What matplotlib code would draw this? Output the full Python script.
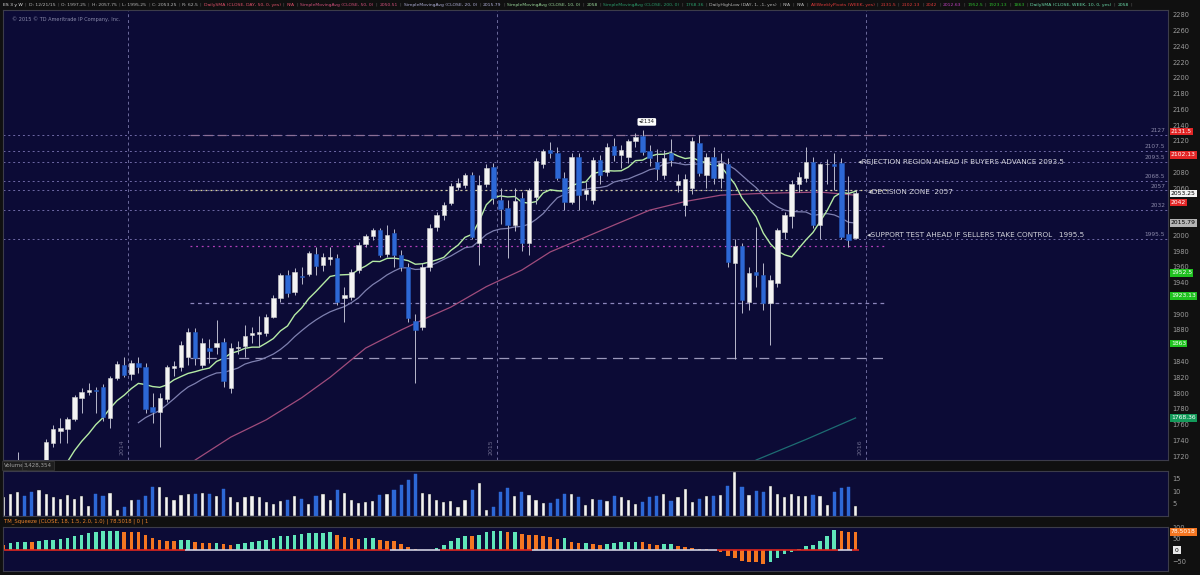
import matplotlib
matplotlib.use("Agg")
import matplotlib.pyplot as plt
import matplotlib.transforms as mtransforms
from matplotlib import font_manager
import numpy as np
import pandas as pd

# ES futures, weekly bars (week of 2013-09-02 .. week of 2015-12-21)
opens = [1632, 1652, 1684, 1705, 1688, 1683, 1700, 1737, 1752, 1754,
         1767, 1794, 1801, 1804, 1807, 1768, 1819, 1836, 1824, 1838,
         1833, 1782, 1776, 1793, 1832, 1833, 1846, 1877, 1836, 1857,
         1858, 1865, 1806, 1857, 1860, 1874, 1875, 1876, 1897, 1921,
         1950, 1928, 1948, 1951, 1977, 1962, 1970, 1971, 1921, 1922,
         1956, 1989, 1999, 2007, 1977, 2003, 1975, 1960, 1891, 1884,
         1960, 2011, 2026, 2041, 2062, 2064, 2076, 1990, 2065, 2087,
         2045, 2035, 2013, 2047, 1990, 2049, 2091, 2108, 2105, 2073,
         2043, 2099, 2052, 2045, 2096, 2080, 2114, 2102, 2099, 2120,
         2126, 2107, 2093, 2077, 2105, 2064, 2039, 2060, 2117, 2077,
         2100, 2073, 2090, 1965, 1987, 1916, 1953, 1950, 1914, 1940,
         2004, 2024, 2065, 2073, 2093, 2013, 2090, 2091, 2092, 2002,
         1997.25]
highs = [1660, 1690, 1725, 1712, 1700, 1708, 1742, 1760, 1768, 1770,
         1797, 1806, 1813, 1808, 1811, 1822, 1840, 1846, 1842, 1846,
         1838, 1800, 1800, 1836, 1840, 1866, 1882, 1883, 1870, 1868,
         1893, 1870, 1864, 1866, 1886, 1884, 1898, 1900, 1924, 1952,
         1956, 1958, 1960, 1980, 1985, 1978, 1985, 1976, 1935, 1957,
         1992, 2002, 2010, 2010, 2013, 2008, 1982, 1965, 1900, 1965,
         2015, 2030, 2042, 2066, 2073, 2079, 2080, 2077, 2090, 2092,
         2060, 2045, 2060, 2055, 2060, 2098, 2110, 2118, 2112, 2080,
         2105, 2104, 2068, 2100, 2102, 2117, 2124, 2115, 2122, 2130,
         2134, 2115, 2110, 2108, 2122, 2078, 2078, 2125, 2128, 2105,
         2112, 2105, 2098, 1995, 1990, 1960, 2011, 1965, 1950, 2010,
         2030, 2070, 2080, 2112, 2100, 2092, 2097, 2104, 2098, 2075,
         2057.75]
lows = [1628, 1648, 1680, 1683, 1668, 1650, 1698, 1732, 1737, 1737,
        1764, 1775, 1798, 1775, 1765, 1756, 1816, 1820, 1816, 1825,
        1775, 1762, 1731, 1788, 1822, 1828, 1836, 1836, 1832, 1838,
        1850, 1808, 1800, 1850, 1846, 1864, 1858, 1872, 1895, 1916,
        1922, 1925, 1938, 1948, 1950, 1955, 1962, 1912, 1890, 1918,
        1952, 1985, 1994, 1972, 1972, 1960, 1955, 1890, 1813, 1880,
        1955, 2005, 2020, 2038, 2058, 2060, 1995, 1963, 2062, 2040,
        2015, 1971, 2005, 1980, 1975, 2040, 2085, 2098, 2070, 2032,
        2040, 2032, 2045, 2040, 2065, 2075, 2095, 2085, 2092, 2112,
        2102, 2088, 2070, 2072, 2088, 2055, 2025, 2052, 2075, 2060,
        2065, 2060, 1960, 1843, 1901, 1905, 1935, 1905, 1861, 1935,
        1995, 2010, 2055, 2068, 2010, 1995, 2065, 2058, 1995, 1985,
        1995.25]
closes = [1652, 1684, 1705, 1688, 1683, 1700, 1738, 1754, 1755, 1767,
          1795, 1801, 1804, 1802, 1770, 1819, 1837, 1823, 1838, 1833,
          1780, 1776, 1794, 1833, 1834, 1861, 1877, 1845, 1864, 1853,
          1864, 1815, 1857, 1859, 1872, 1876, 1877, 1897, 1921, 1950,
          1927, 1954, 1947, 1978, 1961, 1972, 1972, 1915, 1925, 1954,
          1988, 1999, 2007, 1975, 2001, 1975, 1960, 1895, 1880, 1960,
          2010, 2026, 2039, 2063, 2067, 2076, 1998, 2064, 2086, 2048,
          2034, 2013, 2044, 1990, 2057, 2095, 2107, 2105, 2073, 2043,
          2100, 2051, 2058, 2096, 2077, 2112, 2102, 2108, 2120, 2125,
          2106, 2098, 2084, 2098, 2096, 2069, 2071, 2120, 2079, 2100,
          2073, 2092, 1966, 1986, 1918, 1952, 1950, 1914, 1943, 2007,
          2026, 2065, 2074, 2093, 2013, 2090, 2091, 2088, 1998, 1994,
          2053.25]

# volume, millions
volume = [7.6, 9.0, 9.7, 7.9, 9.7, 10.4, 8.8, 7.4, 6.9, 8.3,
          6.9, 7.9, 3.8, 8.8, 7.9, 9.3, 2.1, 3.5, 6.5, 6.5,
          8.0, 11.5, 11.8, 7.6, 6.3, 8.3, 8.8, 9.0, 9.3, 8.8,
          7.9, 10.7, 7.6, 5.6, 7.6, 7.9, 7.6, 5.6, 4.9, 6.0,
          6.5, 7.9, 6.9, 4.9, 7.9, 8.8, 6.5, 10.4, 9.3, 6.5,
          5.1, 5.6, 6.0, 8.3, 8.8, 10.4, 12.5, 14.6, 17.1, 9.3,
          8.8, 6.3, 5.6, 6.0, 3.5, 6.3, 10.4, 13.2, 2.1, 3.5,
          9.7, 11.1, 7.9, 9.7, 8.3, 6.5, 5.1, 5.1, 6.9, 8.8,
          8.8, 7.6, 4.2, 6.9, 6.4, 6.0, 7.8, 7.4, 6.4, 4.8,
          5.7, 7.5, 8.0, 8.7, 6.0, 7.5, 10.8, 5.5, 6.7, 8.0,
          7.8, 8.2, 11.9, 17.7, 11.5, 8.2, 10.2, 9.5, 11.9, 8.7,
          7.4, 8.7, 7.8, 7.8, 8.5, 7.8, 4.1, 9.8, 11.2, 11.5,
          3.7]

# TTM squeeze histogram
squeeze = [24, 31, 35, 35, 34, 41, 45, 46, 48, 52,
           60, 67, 74, 78, 81, 82, 84, 80, 79, 78,
           67, 52, 45, 41, 40, 42, 43, 35, 32, 31,
           32, 25, 24, 27, 31, 35, 38, 45, 52, 60,
           62, 67, 71, 74, 75, 76, 77, 66, 58, 53,
           50, 51, 52, 45, 41, 38, 27, 13, 4, 1,
           0, 10, 24, 38, 52, 62, 60, 67, 78, 81,
           82, 77, 78, 70, 67, 66, 62, 55, 50, 51,
           34, 31, 32, 27, 21, 27, 31, 34, 35, 36,
           34, 27, 24, 25, 26, 20, 13, 10, 7, 4,
           1, -7, -26, -33, -47, -50, -52, -61, -50, -35,
           -18, -7, 7, 17, 21, 41, 62, 85, 81, 80,
           78.5]
squeeze_off = [(26, 37), (55, 61), (75, 100), (118, 119)]

# 50 and 200 week averages (bar index, price)
ma50_idx = [27, 32, 37, 42, 46, 51, 56, 60, 63, 68, 73, 77, 82, 87, 91, 96, 101, 106, 110, 115, 120]
ma50_val = [1715, 1744, 1766, 1794, 1820, 1857, 1880, 1897, 1909, 1935, 1956, 1979, 1998, 2017, 2032,
            2043, 2051, 2053, 2054, 2055, 2051]
ma200_idx = [106, 113, 120]
ma200_val = [1715, 1741, 1768.36]

pivot_levels = [2127, 2107.5, 2093.5, 2068.5, 2057, 2032, 1995.5]
drawn_levels = [2127, 2057, 1986, 1914, 1845]
year_idx = [17.5, 69.5, 121.5]
year_text = ["2014", "2015", "2016"]

price_tags = [("2131.5", 2131.5, "#e32626", "white"), ("2102.13", 2102.13, "#e32626", "white"),
              ("2053.25", 2053.25, "#f2f2f2", "black"), ("2042", 2042, "#e32626", "white"),
              ("2015.79", 2015.79, "#b4b4b4", "black"), ("1952.5", 1952.5, "#1fc21f", "white"),
              ("1923.13", 1923.13, "#1fc21f", "white"), ("1863", 1863, "#1fc21f", "white"),
              ("1768.36", 1768.36, "#139a5a", "white")]

notes = [("\u25c2REJECTION REGION AHEAD IF BUYERS ADVANCE 2093.5", 120.4, 2092.5),
         ("\u25c2DECISION ZONE  2057", 121.8, 2055),
         ("\u25c2SUPPORT TEST AHEAD IF SELLERS TAKE CONTROL   1995.5", 121.6, 2001)]

header = [("ES 3 y W", "#e8e8e8"), ("D: 12/21/15", "#b8b8b8"), ("O: 1997.25", "#b8b8b8"),
          ("H: 2057.75", "#b8b8b8"), ("L: 1995.25", "#b8b8b8"), ("C: 2053.25", "#b8b8b8"),
          ("R: 62.5", "#b8b8b8"), ("DailySMA (CLOSE, DAY, 50, 0, yes)", "#e0506a"), ("N/A", "#e0506a"),
          ("SimpleMovingAvg (CLOSE, 50, 0)", "#d2507c"), ("2050.51", "#d2507c"),
          ("SimpleMovingAvg (CLOSE, 20, 0)", "#b0b0d8"), ("2015.79", "#b0b0d8"),
          ("SimpleMovingAvg (CLOSE, 10, 0)", "#9ad69a"), ("2058", "#9ad69a"),
          ("SimpleMovingAvg (CLOSE, 200, 0)", "#2a9a6a"), ("1768.36", "#2a9a6a"),
          ("DailyHighLow (DAY, 1, -1, yes)", "#b8b8b8"), ("N/A", "#b8b8b8"), ("N/A", "#b8b8b8"),
          ("AllWeeklyPivots (WEEK, yes)", "#e03a3a"), ("2131.5", "#e03a3a"), ("2102.13", "#e03a3a"),
          ("2042", "#e03a3a"), ("2012.63", "#c040c0"), ("1952.5", "#2cb82c"), ("1923.13", "#2cb82c"),
          ("1863", "#2cb82c"), ("DailySMA (CLOSE, WEEK, 10, 0, yes)", "#6ad8a8"), ("2058", "#6ad8a8")]

NAVY = "#0c0b36"
WHITE = "#f3f3f3"
BLUE = "#2d68d6"
AQUA = "#5fe6b9"
ORANGE = "#f47621"

names = {f.name for f in font_manager.fontManager.ttflist}
if "Liberation Sans Narrow" in names:
    note_font, note_size = "Liberation Sans Narrow", 6.6
else:
    note_font, note_size = "DejaVu Sans", 5.2

n = len(closes)
idx = np.arange(n)
o = np.array(opens, float)
c = np.array(closes, float)
up = c >= o

fig = plt.figure(figsize=(12, 5.75), dpi=100, facecolor="#101010")
W, H = 1200.0, 575.0
ax = fig.add_axes([3 / W, 1 - 460 / H, 1165 / W, 450 / H])
axv = fig.add_axes([3 / W, 1 - 516 / H, 1165 / W, 45 / H], sharex=ax)
axs = fig.add_axes([3 / W, 1 - 571 / H, 1165 / W, 44 / H], sharex=ax)

for a in (ax, axv, axs):
    a.set_facecolor(NAVY)
    for s in a.spines.values():
        s.set_color("#3c3c4a")
        s.set_linewidth(0.8)
    a.yaxis.tick_right()
    a.tick_params(axis="y", length=0, pad=3, labelsize=4.8, labelcolor="#9c9c9c")
    a.tick_params(axis="x", length=0, labelbottom=False)
ax.set_xlim(-0.07, 164)

# ---- price panel
ax.set_ylim(1715, 2286)
# the coloured price tags sit on top of some scale labels, leave those out
ticks = [t for t in range(1720, 2281, 20) if min(abs(t - p[1]) for p in price_tags) > 6]
ax.set_yticks(ticks)

for lv in pivot_levels:
    ax.axhline(lv, color="#6f69a6", lw=0.7, ls=(0, (2, 3)), zorder=1)
    ax.text(163.6, lv + 2.5, lv if lv % 1 else int(lv), color="#8a88a8", fontsize=4.2,
            ha="right", va="bottom")
ax.hlines(drawn_levels, 26.3, 124.4, colors=["#8c6f96", "#d6cfa0", "#b23fb8", "#8c86bc", "#9b98bb"],
          linestyles=[(0, (7, 4)), (0, (1.5, 2.5)), (0, (1.5, 3)), (0, (3, 3)), (0, (8, 5))],
          lw=0.9, zorder=1)

for k, t in zip(year_idx, year_text):
    ax.axvline(k, color="#6c6a9c", lw=0.7, ls=(0, (3, 3)), zorder=1)
    ax.text(k - 0.5, 1721, t, rotation=90, color="#6c6a8c", fontsize=4.5, ha="right", va="bottom")

# moving averages
sma10 = pd.Series(closes).rolling(10).mean()
sma20 = pd.Series(closes).rolling(20).mean()
ax.plot(idx, sma20, color="#7e80b0", lw=0.9, zorder=2)
ax.plot(ma50_idx, ma50_val, color="#a04c7c", lw=0.9, zorder=2)
ax.plot(ma200_idx, ma200_val, color="#1d6c72", lw=0.9, zorder=2)
ax.plot(idx, sma10, color="#b5eba5", lw=1.0, zorder=2)

# candles
ax.vlines(idx, lows, highs, color="#b9b9cc", lw=0.7, zorder=3)
body = np.maximum(np.abs(c - o), 1.2)
ax.bar(idx, body, bottom=np.minimum(o, c), width=0.62,
       color=np.where(up, WHITE, BLUE), edgecolor=np.where(up, "#d0d0d0", "#2558b8"),
       lw=0.4, zorder=4)

ax.text(90.6, 2144, "\u25c22134", fontsize=3.8, color="#202020", ha="center", va="center",
        bbox=dict(boxstyle="round,pad=0.25", fc="white", ec="none"))

for txt, x, y in notes:
    ax.text(x, y, txt, family=[note_font, "DejaVu Sans"], fontsize=note_size, color="#d4d4dc",
            ha="left", va="center", zorder=5)

bt = mtransforms.blended_transform_factory(ax.transAxes, ax.transData)
for txt, y, bg, fg in price_tags:
    ax.text(1.0025, y, txt, transform=bt, fontsize=4.3, color=fg, ha="left", va="center",
            bbox=dict(boxstyle="square,pad=0.2", fc=bg, ec="none"), clip_on=False, zorder=6)

ax.text(0.0075, 0.985, "\u00a9 2015 \u00a9 TD Ameritrade IP Company, Inc.", transform=ax.transAxes,
        fontsize=3.6, color="#8b8bab", va="top")

# ---- volume panel
axv.set_ylim(-0.2, 18.2)
axv.set_yticks([5, 10, 15])
axv.bar(idx, volume, width=0.45, color=np.where(up, WHITE, BLUE),
        edgecolor=np.where(up, "#1a1a1a", BLUE), lw=0.3)

# ---- squeeze panel
axs.set_ylim(-90, 100)
axs.set_yticks([100, 50, -50])
sq = np.array(squeeze, float)
prev = np.concatenate([[sq[0] + 1], sq[:-1]])
axs.bar(idx, sq, width=0.5, color=np.where(sq >= prev, AQUA, ORANGE), lw=0)
off = np.zeros(n, bool)
for a0, a1 in squeeze_off:
    off[a0:a1 + 1] = True
axs.hlines(np.zeros(n), idx - 0.5, idx + 0.5, colors=np.where(off, "#cfcfe0", "#e0261e"), lw=1.2)
st = mtransforms.blended_transform_factory(axs.transAxes, axs.transData)
axs.text(1.0025, 78.5, "78.5018", transform=st, fontsize=4.3, color="white", va="center",
         bbox=dict(boxstyle="square,pad=0.2", fc=ORANGE, ec="none"), clip_on=False)
axs.text(1.006, 0, "0", transform=st, fontsize=4.3, color="black", va="center",
         bbox=dict(boxstyle="square,pad=0.3", fc="#e8e8e8", ec="none"), clip_on=False)

# ---- strips with study titles
fig.text(4 / W, 1 - 465.5 / H, "Volume", fontsize=4, color="#a0a0a0", va="center",
         bbox=dict(boxstyle="square,pad=0.3", fc="#1e1e1e", ec="#3a3a3a", lw=0.5))
fig.text(24 / W, 1 - 465.5 / H, "3,428,354", fontsize=4, color="#a0a0a0", va="center",
         bbox=dict(boxstyle="square,pad=0.3", fc="#1e1e1e", ec="#3a3a3a", lw=0.5))
fig.text(4 / W, 1 - 521.5 / H, "TM_Squeeze (CLOSE, 18, 1.5, 2.0, 1.0) | 78.5018 | 0 | 1", fontsize=3.8,
         color="#e8812c", va="center")

# ---- header line, shrunk so that it ends near x = 1135 like the screenshot
renderer = fig.canvas.get_renderer()


def draw_header(size, gap):
    items = []
    x = 3.0
    for txt, col in header:
        t = fig.text(x / W, 1 - 5 / H, txt, fontsize=size, color=col, va="center")
        x = t.get_window_extent(renderer).x1 + gap
        s = fig.text(x / W, 1 - 5 / H, "|", fontsize=size, color="#606060", va="center")
        x += gap * 2.2
        items += [t, s]
    return items, x


items, end = draw_header(3.6, 2.0)
scale = 1132.0 / end
for t in items:
    t.remove()
draw_header(3.6 * scale, 2.0 * scale)

fig.savefig("out.png", dpi=100, facecolor=fig.get_facecolor())
